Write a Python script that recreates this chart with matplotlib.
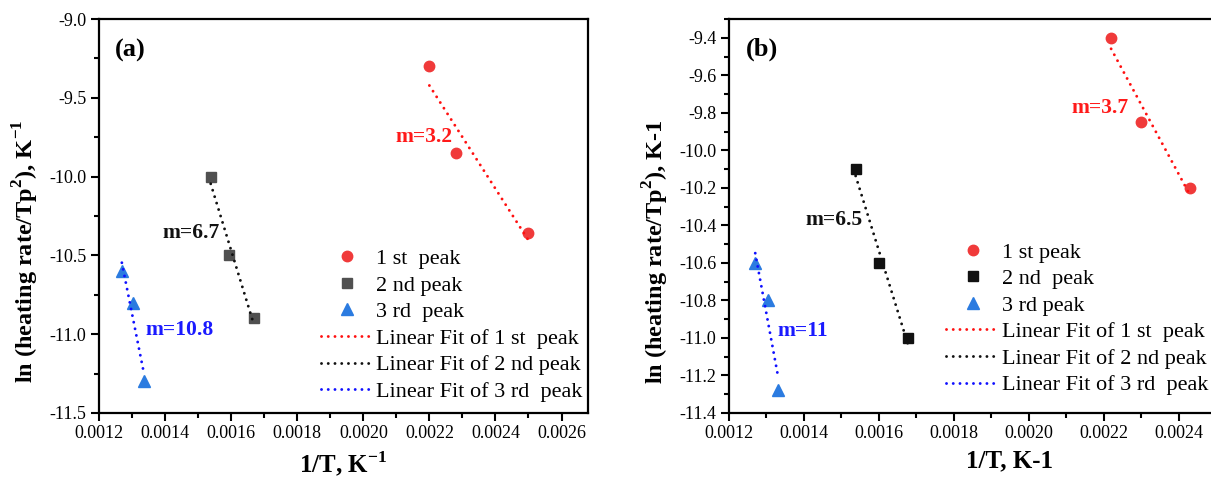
import numpy as np
import matplotlib
matplotlib.use("Agg")
import matplotlib.pyplot as plt
from matplotlib.ticker import MultipleLocator, FixedLocator, FormatStrFormatter

plt.rcParams['font.family'] = ['Liberation Serif', 'DejaVu Serif']
plt.rcParams['mathtext.fontset'] = 'custom'
plt.rcParams['mathtext.rm'] = 'Liberation Serif'
plt.rcParams['mathtext.bf'] = 'Liberation Serif:bold'

# ---- panel (a) data: 1/T (K^-1) vs ln(heating rate / Tp^2)
a_x1 = [0.00220, 0.00228, 0.00250]
a_y1 = [-9.30, -9.85, -10.36]
a_x2 = [0.001538, 0.001593, 0.001668]
a_y2 = [-10.00, -10.50, -10.90]
a_x3 = [0.001269, 0.001304, 0.001335]
a_y3 = [-10.60, -10.80, -11.30]

# ---- panel (b) data
b_x1 = [0.00222, 0.00230, 0.00243]
b_y1 = [-9.40, -9.85, -10.20]
b_x2 = [0.001538, 0.001600, 0.001677]
b_y2 = [-10.10, -10.60, -11.00]
b_x3 = [0.001270, 0.001304, 0.001332]
b_y3 = [-10.60, -10.80, -11.28]

a_slopes = ["m=3.2", "m=6.7", "m=10.8"]
b_slopes = ["m=3.7", "m=6.5", "m=11"]

a_labels = ["1 st  peak", "2 nd peak", "3 rd  peak",
            "Linear Fit of 1 st  peak", "Linear Fit of 2 nd peak", "Linear Fit of 3 rd  peak"]
b_labels = ["1 st peak", "2 nd  peak", "3 rd peak",
            "Linear Fit of 1 st  peak", "Linear Fit of 2 nd peak", "Linear Fit of 3 rd  peak"]

a_xticks = [0.0012, 0.0014, 0.0016, 0.0018, 0.0020, 0.0022, 0.0024, 0.0026]
b_xticks = [0.0012, 0.0014, 0.0016, 0.0018, 0.0020, 0.0022, 0.0024]

RED_M, BLUE_M = '#f03a3a', '#2b7be0'
RED_L, BLACK_L, BLUE_L = '#ff1010', '#111111', '#1010ff'
DOT = (0, (0.01, 2.3))

fig = plt.figure(figsize=(12.11, 4.79), dpi=100)
ax_a = fig.add_axes([0.0818, 0.1378, 0.4037, 0.8225])
ax_b = fig.add_axes([0.6020, 0.1378, 0.4640, 0.8225])


def draw_panel(ax, xs, ys, sq_color, xticks):
    markers = [('o', RED_M, 7.5), ('s', sq_color, 6.5), ('^', BLUE_M, 8)]
    lcolors = [RED_L, BLACK_L, BLUE_L]
    pts, fits = [], []
    for (x, y), (mk, mc, ms) in zip(zip(xs, ys), markers):
        h, = ax.plot(x, y, linestyle='none', marker=mk, color=mc, markersize=ms, zorder=3)
        pts.append(h)
    for (x, y), lc in zip(zip(xs, ys), lcolors):
        k, b = np.polyfit(x, y, 1)
        xx = np.array([min(x), max(x)])
        h, = ax.plot(xx, k * xx + b, linestyle=DOT, color=lc, linewidth=2.1,
                     dash_capstyle='round', zorder=4)
        fits.append(h)
    for s in ax.spines.values():
        s.set_linewidth(1.6)
    ax.tick_params(which='both', direction='out', top=False, right=False,
                   labelsize=13, width=1.5, pad=3)
    ax.tick_params(which='major', length=6)
    ax.tick_params(which='minor', length=3.5)
    ax.xaxis.set_major_locator(FixedLocator(xticks))
    ax.xaxis.set_minor_locator(MultipleLocator(0.0001))
    ax.xaxis.set_major_formatter(FormatStrFormatter('%.4f'))
    return pts + fits


LEG = dict(loc='upper left', frameon=False, fontsize=16, handlelength=2.35,
           handletextpad=0.15, labelspacing=0.27, borderpad=0, borderaxespad=0,
           numpoints=1)

# ---------------- panel (a)
h_a = draw_panel(ax_a, [a_x1, a_x2, a_x3], [a_y1, a_y2, a_y3], '#505050', a_xticks)
ax_a.set_xlim(0.0012, 0.00268)
ax_a.set_ylim(-11.5, -9.0)
ax_a.yaxis.set_major_locator(MultipleLocator(0.5))
ax_a.yaxis.set_minor_locator(MultipleLocator(0.25))
ax_a.yaxis.set_major_formatter(FormatStrFormatter('%.1f'))
ax_a.set_xlabel(r"1/T, K$^{\mathbf{-1}}$", fontsize=18, fontweight='bold', labelpad=5)
ax_a.set_ylabel(r"ln (heating rate/Tp$^{\mathbf{2}}$), K$^{\mathbf{-1}}$", fontsize=17.5,
                fontweight='bold')
ax_a.yaxis.set_label_coords(-0.119, 0.41)
ax_a.text(0.063, 0.92, "(a)", transform=ax_a.transAxes, fontsize=19, fontweight='bold',
          ha='center', va='center')
ax_a.text(0.00227, -9.75, a_slopes[0], color='#ff1a1a', fontsize=15.5, fontweight='bold',
          ha='right', va='center')
ax_a.text(0.001564, -10.355, a_slopes[1], color='#111111', fontsize=15.5, fontweight='bold',
          ha='right', va='center')
ax_a.text(0.001340, -10.975, a_slopes[2], color='#1a1aff', fontsize=15.5, fontweight='bold',
          ha='left', va='center')
ax_a.legend(h_a, a_labels, bbox_to_anchor=(0.453, 0.4175), **LEG)

# ---------------- panel (b)
h_b = draw_panel(ax_b, [b_x1, b_x2, b_x3], [b_y1, b_y2, b_y3], '#111111', b_xticks)
ax_b.set_xlim(0.0012, 0.0027)
ax_b.set_ylim(-11.4, -9.3)
ax_b.yaxis.set_major_locator(MultipleLocator(0.2))
ax_b.yaxis.set_minor_locator(MultipleLocator(0.1))
ax_b.yaxis.set_major_formatter(FormatStrFormatter('%.1f'))
ax_b.set_xlabel("1/T, K-1", fontsize=18, fontweight='bold', labelpad=5)
ax_b.set_ylabel(r"ln (heating rate/Tp$^{\mathbf{2}}$), K-1", fontsize=17.5,
                fontweight='bold')
ax_b.yaxis.set_label_coords(-0.103, 0.41)
ax_b.text(0.059, 0.924, "(b)", transform=ax_b.transAxes, fontsize=19, fontweight='bold',
          ha='center', va='center')
ax_b.text(0.002267, -9.773, b_slopes[0], color='#ff1a1a', fontsize=15.5, fontweight='bold',
          ha='right', va='center')
ax_b.text(0.001557, -10.369, b_slopes[1], color='#111111', fontsize=15.5, fontweight='bold',
          ha='right', va='center')
ax_b.text(0.001330, -10.964, b_slopes[2], color='#1a1aff', fontsize=15.5, fontweight='bold',
          ha='left', va='center')
ax_b.legend(h_b, b_labels, bbox_to_anchor=(0.387, 0.434), **LEG)

fig.savefig("out.png", dpi=100)
